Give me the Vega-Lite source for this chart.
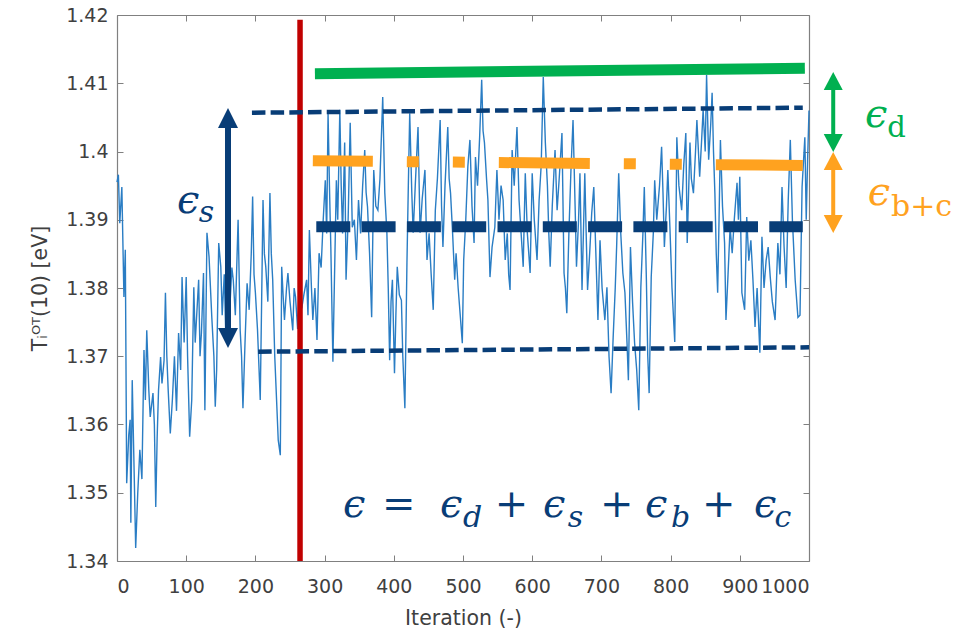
{
  "$schema": "https://vega.github.io/schema/vega-lite/v6.json",
  "width": 692,
  "height": 546,
  "autosize": {"type": "none"},
  "padding": {"left": 117, "top": 15, "right": 169, "bottom": 71},
  "background": "white",
  "config": {
    "view": {"stroke": null},
    "axis": {
      "grid": false,
      "domainColor": "#808080",
      "domainWidth": 1.2,
      "tickColor": "#808080",
      "tickSize": -6,
      "tickWidth": 1,
      "labelOverlap": false,
      "labelFont": "DejaVu Sans",
      "labelFontSize": 19,
      "labelColor": "#404040",
      "titleFont": "DejaVu Sans",
      "titleFontSize": 20.5,
      "titleFontWeight": "normal",
      "titleColor": "#404040"
    }
  },
  "layer": [
    {
      "data": {"values": [
        {"i":0,"v":1.3955},{"i":2,"v":1.3966},{"i":4,"v":1.3895},{"i":7,"v":1.3948},{"i":10,"v":1.3787},{"i":12,"v":1.3856},{"i":14,"v":1.3514},{"i":17,"v":1.3585},{"i":19,"v":1.3607},{"i":20,"v":1.3456},{"i":22,"v":1.3665},{"i":25,"v":1.352},{"i":27,"v":1.3419},{"i":30,"v":1.35},{"i":33,"v":1.3563},{"i":36,"v":1.352},{"i":39,"v":1.3709},{"i":41,"v":1.3636},{"i":43,"v":1.3738},{"i":46,"v":1.365},{"i":48,"v":1.3611},{"i":52,"v":1.3646},{"i":54,"v":1.36},{"i":56,"v":1.3479},{"i":58,"v":1.358},{"i":60,"v":1.365},{"i":63,"v":1.3699},{"i":65,"v":1.366},{"i":68,"v":1.3694},{"i":70,"v":1.3793},{"i":72,"v":1.37},{"i":74,"v":1.365},{"i":77,"v":1.3587},{"i":80,"v":1.3636},{"i":83,"v":1.37},{"i":86,"v":1.362},{"i":89,"v":1.3734},{"i":92,"v":1.368},{"i":94,"v":1.3816},{"i":97,"v":1.372},{"i":100,"v":1.3816},{"i":102,"v":1.37},{"i":105,"v":1.3582},{"i":108,"v":1.3636},{"i":111,"v":1.3801},{"i":113,"v":1.372},{"i":115,"v":1.3757},{"i":118,"v":1.3812},{"i":120,"v":1.37},{"i":122,"v":1.3734},{"i":125,"v":1.3822},{"i":127,"v":1.3621},{"i":130,"v":1.3881},{"i":133,"v":1.3846},{"i":137,"v":1.3757},{"i":140,"v":1.37},{"i":142,"v":1.3626},{"i":144,"v":1.368},{"i":147,"v":1.3866},{"i":150,"v":1.3831},{"i":152,"v":1.376},{"i":155,"v":1.382},{"i":157,"v":1.374},{"i":160,"v":1.385},{"i":163,"v":1.377},{"i":166,"v":1.383},{"i":168,"v":1.3812},{"i":171,"v":1.376},{"i":175,"v":1.39},{"i":178,"v":1.3738},{"i":180,"v":1.37},{"i":182,"v":1.3624},{"i":185,"v":1.372},{"i":188,"v":1.3807},{"i":191,"v":1.3768},{"i":194,"v":1.385},{"i":196,"v":1.3934},{"i":198,"v":1.382},{"i":200,"v":1.3793},{"i":203,"v":1.374},{"i":207,"v":1.3636},{"i":209,"v":1.378},{"i":211,"v":1.3929},{"i":213,"v":1.385},{"i":215,"v":1.3831},{"i":218,"v":1.378},{"i":221,"v":1.3939},{"i":223,"v":1.385},{"i":225,"v":1.3812},{"i":228,"v":1.3699},{"i":231,"v":1.3626},{"i":233,"v":1.3577},{"i":236,"v":1.3555},{"i":238,"v":1.3831},{"i":240,"v":1.379},{"i":242,"v":1.3753},{"i":245,"v":1.38},{"i":247,"v":1.3822},{"i":250,"v":1.378},{"i":254,"v":1.3738},{"i":256,"v":1.38},{"i":258,"v":1.3787},{"i":261,"v":1.374},{"i":264,"v":1.382},{"i":267,"v":1.377},{"i":270,"v":1.379},{"i":274,"v":1.3812},{"i":276,"v":1.376},{"i":278,"v":1.3885},{"i":281,"v":1.38},{"i":283,"v":1.3753},{"i":286,"v":1.38},{"i":289,"v":1.3724},{"i":292,"v":1.3851},{"i":295,"v":1.383},{"i":298,"v":1.39},{"i":301,"v":1.3958},{"i":303,"v":1.388},{"i":305,"v":1.4056},{"i":307,"v":1.395},{"i":309,"v":1.386},{"i":312,"v":1.3692},{"i":314,"v":1.38},{"i":317,"v":1.3958},{"i":319,"v":1.39},{"i":322,"v":1.4061},{"i":324,"v":1.395},{"i":326,"v":1.388},{"i":329,"v":1.4013},{"i":331,"v":1.3812},{"i":334,"v":1.39},{"i":337,"v":1.4042},{"i":340,"v":1.3889},{"i":343,"v":1.39},{"i":346,"v":1.3841},{"i":349,"v":1.3929},{"i":352,"v":1.388},{"i":355,"v":1.395},{"i":358,"v":1.4002},{"i":360,"v":1.394},{"i":362,"v":1.3919},{"i":365,"v":1.385},{"i":368,"v":1.3757},{"i":371,"v":1.3973},{"i":374,"v":1.392},{"i":377,"v":1.3914},{"i":380,"v":1.396},{"i":384,"v":1.408},{"i":387,"v":1.3939},{"i":390,"v":1.3881},{"i":392,"v":1.38},{"i":394,"v":1.3694},{"i":396,"v":1.378},{"i":398,"v":1.3812},{"i":401,"v":1.3675},{"i":403,"v":1.376},{"i":405,"v":1.3831},{"i":408,"v":1.379},{"i":411,"v":1.3782},{"i":413,"v":1.37},{"i":416,"v":1.3624},{"i":419,"v":1.3837},{"i":421,"v":1.395},{"i":423,"v":1.4056},{"i":426,"v":1.394},{"i":428,"v":1.3881},{"i":431,"v":1.395},{"i":435,"v":1.4036},{"i":438,"v":1.3881},{"i":441,"v":1.393},{"i":445,"v":1.3973},{"i":448,"v":1.3841},{"i":451,"v":1.388},{"i":454,"v":1.382},{"i":457,"v":1.3768},{"i":460,"v":1.3914},{"i":463,"v":1.396},{"i":467,"v":1.4046},{"i":469,"v":1.392},{"i":471,"v":1.386},{"i":474,"v":1.395},{"i":478,"v":1.4036},{"i":480,"v":1.396},{"i":482,"v":1.3939},{"i":485,"v":1.388},{"i":488,"v":1.3812},{"i":490,"v":1.3851},{"i":493,"v":1.38},{"i":496,"v":1.376},{"i":499,"v":1.3719},{"i":501,"v":1.3841},{"i":504,"v":1.39},{"i":507,"v":1.3978},{"i":510,"v":1.4017},{"i":513,"v":1.392},{"i":516,"v":1.3866},{"i":518,"v":1.3992},{"i":521,"v":1.395},{"i":524,"v":1.402},{"i":527,"v":1.4105},{"i":529,"v":1.403},{"i":531,"v":1.4013},{"i":534,"v":1.396},{"i":536,"v":1.3929},{"i":539,"v":1.3816},{"i":542,"v":1.386},{"i":546,"v":1.3889},{"i":549,"v":1.3973},{"i":552,"v":1.39},{"i":555,"v":1.395},{"i":558,"v":1.3929},{"i":561,"v":1.3841},{"i":564,"v":1.388},{"i":566,"v":1.382},{"i":568,"v":1.3797},{"i":571,"v":1.4002},{"i":574,"v":1.395},{"i":578,"v":1.4036},{"i":581,"v":1.3929},{"i":584,"v":1.388},{"i":587,"v":1.3831},{"i":590,"v":1.3968},{"i":593,"v":1.388},{"i":597,"v":1.3822},{"i":600,"v":1.3968},{"i":603,"v":1.39},{"i":607,"v":1.3841},{"i":610,"v":1.3929},{"i":613,"v":1.398},{"i":616,"v":1.4109},{"i":619,"v":1.4013},{"i":622,"v":1.395},{"i":624,"v":1.388},{"i":626,"v":1.3831},{"i":629,"v":1.392},{"i":633,"v":1.4002},{"i":636,"v":1.3914},{"i":639,"v":1.396},{"i":643,"v":1.4027},{"i":646,"v":1.3822},{"i":648,"v":1.38},{"i":650,"v":1.3763},{"i":653,"v":1.388},{"i":656,"v":1.3973},{"i":659,"v":1.4046},{"i":662,"v":1.392},{"i":664,"v":1.3831},{"i":667,"v":1.39},{"i":669,"v":1.3968},{"i":672,"v":1.3797},{"i":674,"v":1.388},{"i":676,"v":1.3968},{"i":678,"v":1.388},{"i":680,"v":1.3797},{"i":683,"v":1.385},{"i":686,"v":1.391},{"i":689,"v":1.3948},{"i":692,"v":1.385},{"i":695,"v":1.3753},{"i":698,"v":1.387},{"i":701,"v":1.38},{"i":705,"v":1.3753},{"i":708,"v":1.3801},{"i":711,"v":1.37},{"i":714,"v":1.3646},{"i":717,"v":1.3728},{"i":720,"v":1.38},{"i":722,"v":1.386},{"i":725,"v":1.3968},{"i":728,"v":1.388},{"i":731,"v":1.3822},{"i":734,"v":1.3793},{"i":737,"v":1.372},{"i":739,"v":1.3665},{"i":742,"v":1.386},{"i":745,"v":1.378},{"i":748,"v":1.3719},{"i":751,"v":1.368},{"i":754,"v":1.3621},{"i":757,"v":1.3801},{"i":760,"v":1.388},{"i":762,"v":1.3948},{"i":765,"v":1.3812},{"i":767,"v":1.37},{"i":769,"v":1.3646},{"i":772,"v":1.3816},{"i":775,"v":1.388},{"i":777,"v":1.3958},{"i":780,"v":1.39},{"i":784,"v":1.395},{"i":787,"v":1.4007},{"i":789,"v":1.394},{"i":791,"v":1.386},{"i":794,"v":1.392},{"i":796,"v":1.3973},{"i":799,"v":1.3889},{"i":802,"v":1.38},{"i":806,"v":1.3721},{"i":809,"v":1.4021},{"i":812,"v":1.395},{"i":816,"v":1.3914},{"i":819,"v":1.398},{"i":822,"v":1.4027},{"i":824,"v":1.3866},{"i":828,"v":1.4013},{"i":830,"v":1.396},{"i":833,"v":1.3939},{"i":836,"v":1.4},{"i":838,"v":1.4046},{"i":842,"v":1.3963},{"i":845,"v":1.402},{"i":847,"v":1.4061},{"i":850,"v":1.4},{"i":852,"v":1.4112},{"i":855,"v":1.3988},{"i":858,"v":1.404},{"i":860,"v":1.4086},{"i":862,"v":1.4},{"i":864,"v":1.3939},{"i":866,"v":1.385},{"i":868,"v":1.3793},{"i":870,"v":1.39},{"i":872,"v":1.4017},{"i":875,"v":1.392},{"i":878,"v":1.3866},{"i":880,"v":1.3753},{"i":883,"v":1.382},{"i":886,"v":1.3889},{"i":889,"v":1.3851},{"i":892,"v":1.39},{"i":896,"v":1.3954},{"i":898,"v":1.39},{"i":900,"v":1.3963},{"i":903,"v":1.3793},{"i":907,"v":1.3768},{"i":910,"v":1.3904},{"i":913,"v":1.384},{"i":916,"v":1.387},{"i":919,"v":1.3812},{"i":922,"v":1.3743},{"i":925,"v":1.38},{"i":929,"v":1.3705},{"i":932,"v":1.3875},{"i":935,"v":1.38},{"i":938,"v":1.384},{"i":941,"v":1.386},{"i":944,"v":1.3816},{"i":947,"v":1.378},{"i":951,"v":1.3753},{"i":955,"v":1.3866},{"i":958,"v":1.382},{"i":961,"v":1.3948},{"i":964,"v":1.386},{"i":967,"v":1.38},{"i":970,"v":1.3929},{"i":973,"v":1.4017},{"i":976,"v":1.39},{"i":980,"v":1.3812},{"i":984,"v":1.3757},{"i":987,"v":1.376},{"i":990,"v":1.3948},{"i":994,"v":1.4021},{"i":996,"v":1.39},{"i":998,"v":1.3988},{"i":1000,"v":1.406}
      ]},
      "mark": {"type": "line", "color": "#2a7dc4", "strokeWidth": 1.4},
      "encoding": {
        "x": {"field": "i", "type": "quantitative",
              "scale": {"domain": [0, 1000], "nice": false, "zero": false},
              "axis": {"orient": "bottom", "values": [0,100,200,300,400,500,600,700,800,900,1000], "format": "d", "labelPadding": 22, "title": "Iteration (-)", "titlePadding": 12}},
        "y": {"field": "v", "type": "quantitative",
              "scale": {"domain": [1.34, 1.42], "nice": false, "zero": false},
              "axis": {"orient": "left", "values": [1.34,1.35,1.36,1.37,1.38,1.39,1.4,1.41,1.42], "format": ".2~f", "labelPadding": 15, "title": "Tᵢᴼᵀ(10) [eV]", "titleX": -67, "titleY": 273, "titleAngle": 270, "titleAlign": "center", "titleBaseline": "bottom"}}
      }
    },
    {
      "data": {"values": [{"x": 264.5, "y": 1.4193, "y2": 1.34}]},
      "mark": {"type": "rule", "color": "#C00000", "strokeWidth": 5.5},
      "encoding": {
        "x": {"field": "x", "type": "quantitative",
              "axis": {"orient": "top", "values": [0,100,200,300,400,500,600,700,800,900,1000], "labels": false, "title": null}},
        "y": {"field": "y", "type": "quantitative",
              "axis": {"orient": "right", "values": [1.34,1.35,1.36,1.37,1.38,1.39,1.4,1.41,1.42], "labels": false, "title": null}},
        "y2": {"field": "y2"}
      }
    },
    {
      "data": {"values": [{"x": 286, "y": 1.4114}, {"x": 994, "y": 1.4122}]},
      "mark": {"type": "line", "color": "#00B050", "strokeWidth": 11, "strokeCap": "butt"},
      "encoding": {
        "x": {"field": "x", "type": "quantitative", "axis": null},
        "y": {"field": "y", "type": "quantitative", "axis": null}
      }
    },
    {
      "data": {"values": [{"x": 195, "y": 1.40568}, {"x": 991, "y": 1.40642}]},
      "mark": {"type": "line", "color": "#083D77", "strokeWidth": 4.5, "strokeDash": [13.5, 5.2]},
      "encoding": {
        "x": {"field": "x", "type": "quantitative", "axis": null},
        "y": {"field": "y", "type": "quantitative", "axis": null}
      }
    },
    {
      "data": {"values": [{"x": 204, "y": 1.37067}, {"x": 1000, "y": 1.37131}]},
      "mark": {"type": "line", "color": "#083D77", "strokeWidth": 4.5, "strokeDash": [13.5, 5.2]},
      "encoding": {
        "x": {"field": "x", "type": "quantitative", "axis": null},
        "y": {"field": "y", "type": "quantitative", "axis": null}
      }
    },
    {
      "data": {"values": [{"x": 283, "y": 1.39865}, {"x": 991, "y": 1.39795}]},
      "mark": {"type": "line", "color": "#FFA21F", "strokeWidth": 11, "strokeDash": [91, 34, 12, 34, 12, 34], "strokeDashOffset": 31},
      "encoding": {
        "x": {"field": "x", "type": "quantitative", "axis": null},
        "y": {"field": "y", "type": "quantitative", "axis": null}
      }
    },
    {
      "data": {"values": [{"x": 288, "y": 1.38898}, {"x": 991, "y": 1.38898}]},
      "mark": {"type": "line", "color": "#083D77", "strokeWidth": 11, "strokeDash": [34, 11.3]},
      "encoding": {
        "x": {"field": "x", "type": "quantitative", "axis": null},
        "y": {"field": "y", "type": "quantitative", "axis": null}
      }
    },
    {
      "data": {"values": [{"x": 160.4, "y": 1.4041, "y2": 1.3735}]},
      "mark": {"type": "rule", "color": "#083D77", "strokeWidth": 6},
      "encoding": {
        "x": {"field": "x", "type": "quantitative", "axis": null},
        "y": {"field": "y", "type": "quantitative", "axis": null},
        "y2": {"field": "y2"}
      }
    },
    {
      "data": {"values": [{"x": 160.4, "y": 1.40637}]},
      "mark": {"type": "point", "shape": "M0,0L1,2L-1,2Z", "size": 400, "filled": true, "opacity": 1, "color": "#083D77"},
      "encoding": {
        "x": {"field": "x", "type": "quantitative", "axis": null},
        "y": {"field": "y", "type": "quantitative", "axis": null}
      }
    },
    {
      "data": {"values": [{"x": 160.4, "y": 1.37121}]},
      "mark": {"type": "point", "shape": "M0,0L1,-2L-1,-2Z", "size": 400, "filled": true, "opacity": 1, "color": "#083D77"},
      "encoding": {
        "x": {"field": "x", "type": "quantitative", "axis": null},
        "y": {"field": "y", "type": "quantitative", "axis": null}
      }
    },
    {
      "data": {"values": [{"x": 1035, "y": 1.4093, "y2": 1.4023}]},
      "mark": {"type": "rule", "color": "#00B050", "strokeWidth": 4},
      "encoding": {
        "x": {"field": "x", "type": "quantitative", "axis": null},
        "y": {"field": "y", "type": "quantitative", "axis": null},
        "y2": {"field": "y2"}
      }
    },
    {
      "data": {"values": [{"x": 1035, "y": 1.41165}]},
      "mark": {"type": "point", "shape": "M0,0L1,1.9L-1,1.9Z", "size": 361, "filled": true, "opacity": 1, "color": "#00B050"},
      "encoding": {
        "x": {"field": "x", "type": "quantitative", "axis": null},
        "y": {"field": "y", "type": "quantitative", "axis": null}
      }
    },
    {
      "data": {"values": [{"x": 1035, "y": 1.39993}]},
      "mark": {"type": "point", "shape": "M0,0L1,-1.9L-1,-1.9Z", "size": 361, "filled": true, "opacity": 1, "color": "#00B050"},
      "encoding": {
        "x": {"field": "x", "type": "quantitative", "axis": null},
        "y": {"field": "y", "type": "quantitative", "axis": null}
      }
    },
    {
      "data": {"values": [{"x": 1035, "y": 1.3975, "y2": 1.3905}]},
      "mark": {"type": "rule", "color": "#FFA21F", "strokeWidth": 4},
      "encoding": {
        "x": {"field": "x", "type": "quantitative", "axis": null},
        "y": {"field": "y", "type": "quantitative", "axis": null},
        "y2": {"field": "y2"}
      }
    },
    {
      "data": {"values": [{"x": 1035, "y": 1.39993}]},
      "mark": {"type": "point", "shape": "M0,0L1,1.9L-1,1.9Z", "size": 361, "filled": true, "opacity": 1, "color": "#FFA21F"},
      "encoding": {
        "x": {"field": "x", "type": "quantitative", "axis": null},
        "y": {"field": "y", "type": "quantitative", "axis": null}
      }
    },
    {
      "data": {"values": [{"x": 1035, "y": 1.38806}]},
      "mark": {"type": "point", "shape": "M0,0L1,-1.9L-1,-1.9Z", "size": 361, "filled": true, "opacity": 1, "color": "#FFA21F"},
      "encoding": {
        "x": {"field": "x", "type": "quantitative", "axis": null},
        "y": {"field": "y", "type": "quantitative", "axis": null}
      }
    },
    {
      "data": {"values": [{"x": 1081, "y": 1.40359, "t": "ϵ"}]},
      "mark": {"type": "text", "align": "left", "baseline": "alphabetic", "font": "DejaVu Serif", "fontStyle": "italic", "fontSize": 40, "color": "#00B050"},
      "encoding": {
        "x": {"field": "x", "type": "quantitative", "axis": null},
        "y": {"field": "y", "type": "quantitative", "axis": null},
        "text": {"field": "t"}
      }
    },
    {
      "data": {"values": [{"x": 1113, "y": 1.40213, "t": "d"}]},
      "mark": {"type": "text", "align": "left", "baseline": "alphabetic", "font": "DejaVu Serif", "fontSize": 29, "color": "#00B050"},
      "encoding": {
        "x": {"field": "x", "type": "quantitative", "axis": null},
        "y": {"field": "y", "type": "quantitative", "axis": null},
        "text": {"field": "t"}
      }
    },
    {
      "data": {"values": [{"x": 1085, "y": 1.39216, "t": "ϵ"}]},
      "mark": {"type": "text", "align": "left", "baseline": "alphabetic", "font": "DejaVu Serif", "fontStyle": "italic", "fontSize": 40, "color": "#FFA21F"},
      "encoding": {
        "x": {"field": "x", "type": "quantitative", "axis": null},
        "y": {"field": "y", "type": "quantitative", "axis": null},
        "text": {"field": "t"}
      }
    },
    {
      "data": {"values": [{"x": 1118.5, "y": 1.39055, "t": "b+c"}]},
      "mark": {"type": "text", "align": "left", "baseline": "alphabetic", "font": "DejaVu Serif", "fontSize": 30, "color": "#FFA21F"},
      "encoding": {
        "x": {"field": "x", "type": "quantitative", "axis": null},
        "y": {"field": "y", "type": "quantitative", "axis": null},
        "text": {"field": "t"}
      }
    },
    {
      "data": {"values": [
        {"x": 86.7, "y": 1.39099, "t": "ϵ"},
        {"x": 326.6, "y": 1.34645, "t": "ϵ"},
        {"x": 466.8, "y": 1.34645, "t": "ϵ"},
        {"x": 615.6, "y": 1.34645, "t": "ϵ"},
        {"x": 763, "y": 1.34645, "t": "ϵ"},
        {"x": 920.5, "y": 1.34645, "t": "ϵ"}
      ]},
      "mark": {"type": "text", "align": "left", "baseline": "alphabetic", "font": "DejaVu Serif", "fontStyle": "italic", "fontSize": 40, "color": "#083D77"},
      "encoding": {
        "x": {"field": "x", "type": "quantitative", "axis": null},
        "y": {"field": "y", "type": "quantitative", "axis": null},
        "text": {"field": "t"}
      }
    },
    {
      "data": {"values": [
        {"x": 383, "y": 1.34645, "t": "="},
        {"x": 546, "y": 1.34645, "t": "+"},
        {"x": 698, "y": 1.34645, "t": "+"},
        {"x": 845.4, "y": 1.34645, "t": "+"}
      ]},
      "mark": {"type": "text", "align": "left", "baseline": "alphabetic", "font": "DejaVu Serif", "fontSize": 40, "color": "#083D77"},
      "encoding": {
        "x": {"field": "x", "type": "quantitative", "axis": null},
        "y": {"field": "y", "type": "quantitative", "axis": null},
        "text": {"field": "t"}
      }
    },
    {
      "data": {"values": [
        {"x": 118, "y": 1.38967, "t": "s"},
        {"x": 500, "y": 1.34498, "t": "d"},
        {"x": 651.5, "y": 1.34498, "t": "s"},
        {"x": 800.5, "y": 1.34498, "t": "b"},
        {"x": 950, "y": 1.34498, "t": "c"}
      ]},
      "mark": {"type": "text", "align": "left", "baseline": "alphabetic", "font": "DejaVu Serif", "fontStyle": "italic", "fontSize": 30, "color": "#083D77"},
      "encoding": {
        "x": {"field": "x", "type": "quantitative", "axis": null},
        "y": {"field": "y", "type": "quantitative", "axis": null},
        "text": {"field": "t"}
      }
    }
  ]
}
